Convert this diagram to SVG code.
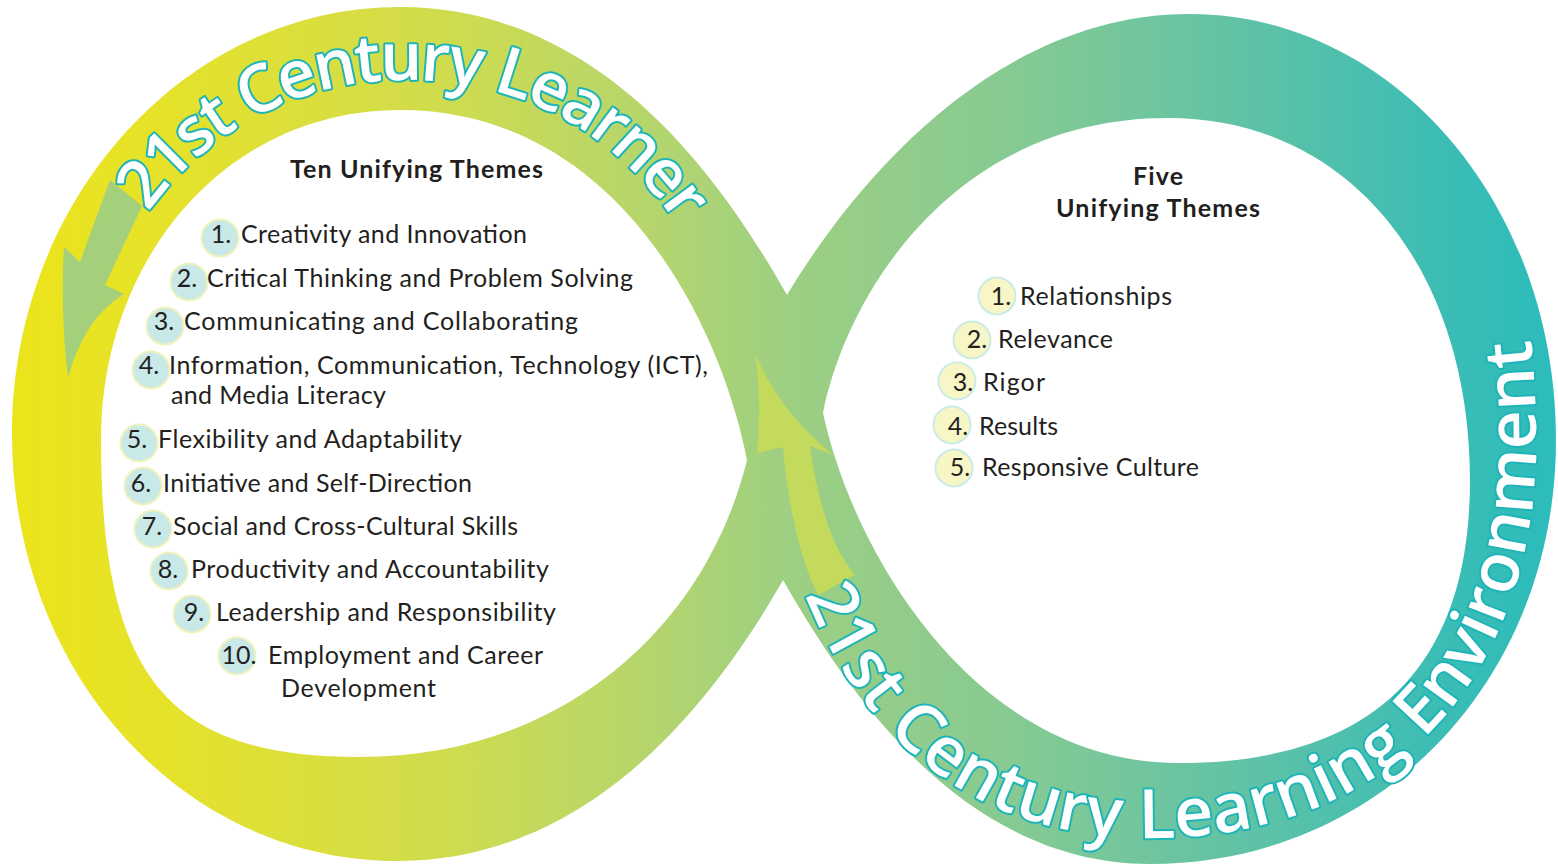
<svg xmlns="http://www.w3.org/2000/svg" width="1558" height="865" viewBox="0 0 1558 865">
<defs>
<linearGradient id="bandGrad" gradientUnits="userSpaceOnUse" x1="10" y1="0" x2="1558" y2="0">
<stop offset="0" stop-color="#ece41a"/>
<stop offset="0.1" stop-color="#e5e22a"/>
<stop offset="0.28" stop-color="#d0dc4e"/>
<stop offset="0.42" stop-color="#b3d56e"/>
<stop offset="0.5" stop-color="#9ecf82"/>
<stop offset="0.65" stop-color="#86ca93"/>
<stop offset="0.8" stop-color="#5fc2a6"/>
<stop offset="0.92" stop-color="#3dbdb4"/>
<stop offset="1" stop-color="#2bbcbc"/>
</linearGradient>
<path id="tpL" d="M 78,440 C 78,240 215,80 405,80 C 615,80 715,245 752,400"/>
<path id="tpR" d="M 770,470 C 800,640 900,838 1150,838 C 1390,838 1536,680 1536,440 C 1536,330 1520,250 1490,190"/>
</defs>
<style>
.arc{font-family:"Open Sans","Noto Sans",sans-serif;font-weight:600;fill:#ffffff;stroke:#1fb4b7;stroke-width:4;paint-order:stroke;stroke-linejoin:round}
.hd{font-family:Lato,"Liberation Sans",sans-serif;font-weight:700;font-size:25px;fill:#231f20}
.it{font-family:Lato,"Liberation Sans",sans-serif;font-size:25px;fill:#231f20}
.cl{fill:#c8e9e8;stroke:#eef2bb;stroke-width:2}
.cr{fill:#f8f5c6;stroke:#cbece5;stroke-width:2}
</style>
<g id="ribbon">
<path fill="url(#bandGrad)" fill-rule="evenodd" d="M 787,295 C 730,195 610,7 400,7 C 185,7 12,200 12,434 C 12,670 180,861 398,861 C 600,861 723,685 783,580 C 843,685 960,864 1150,864 C 1380,864 1556,680 1556,440 C 1556,200 1390,14 1190,14 C 990,14 850,190 787,295 Z M 747,460 C 722,330 620,110 400,110 C 225,110 101,260 101,440 C 101,680 170,757 360,757 C 560,757 705,630 747,460 Z M 823,413 C 845,300 950,118 1168,118 C 1350,118 1470,270 1470,480 C 1470,680 1360,763 1178,763 C 980,763 855,560 823,413 Z"/>
</g>
<g id="connectors">
<path id="arrow-left" fill="#a4cf7b" d="M 110,180 L 142,206 L 105,285 L 124,294 Q 84,318 68,378 Q 60,310 64,247 L 80,262 Z"/>
<path id="arrow-cross" fill="#c4da5d" d="M 755,353 Q 778,410 833,455 L 810,446 C 818,500 830,545 855,575 L 818,595 C 800,560 787,500 783,447 L 757,453 Q 762,400 755,353 Z"/>
</g>
<g id="arc-titles">
<text id="title-learner" class="arc" font-size="66"><textPath href="#tpL" startOffset="242" textLength="622">21st Century Learner</textPath></text>
<text id="title-environment" class="arc" font-size="68"><textPath href="#tpR" startOffset="130" textLength="1178">21st Century Learning Environment</textPath></text>
</g>
<g id="learner-themes">
<text id="hd-left" class="hd" x="416.5" y="178" text-anchor="middle" textLength="253">Ten Unifying Themes</text>
<g id="l1"><circle class="cl" cx="220" cy="238" r="18.5"/><text class="it" x="221" y="243" text-anchor="middle">1.</text><text class="it" x="241" y="243" textLength="286">Creativity and Innovation</text></g>
<g id="l2"><circle class="cl" cx="189" cy="282" r="18.5"/><text class="it" x="187" y="287" text-anchor="middle">2.</text><text class="it" x="207" y="287" textLength="426">Critical Thinking and Problem Solving</text></g>
<g id="l3"><circle class="cl" cx="165" cy="326" r="18.5"/><text class="it" x="164" y="330" text-anchor="middle">3.</text><text class="it" x="184" y="330" textLength="394">Communicating and Collaborating</text></g>
<g id="l4"><circle class="cl" cx="151" cy="370" r="18.5"/><text class="it" x="149" y="374" text-anchor="middle">4.</text><text class="it" x="169" y="374" textLength="539">Information, Communication, Technology (ICT),</text><text class="it" x="171" y="404" textLength="215">and Media Literacy</text></g>
<g id="l5"><circle class="cl" cx="139" cy="443" r="18.5"/><text class="it" x="137" y="448" text-anchor="middle">5.</text><text class="it" x="158" y="448" textLength="304">Flexibility and Adaptability</text></g>
<g id="l6"><circle class="cl" cx="143" cy="486" r="18.5"/><text class="it" x="141" y="492" text-anchor="middle">6.</text><text class="it" x="163" y="492" textLength="309">Initiative and Self-Direction</text></g>
<g id="l7"><circle class="cl" cx="153" cy="529" r="18.5"/><text class="it" x="152" y="535" text-anchor="middle">7.</text><text class="it" x="173" y="535" textLength="345">Social and Cross-Cultural Skills</text></g>
<g id="l8"><circle class="cl" cx="169" cy="571" r="18.5"/><text class="it" x="168" y="578" text-anchor="middle">8.</text><text class="it" x="191" y="578" textLength="358">Productivity and Accountability</text></g>
<g id="l9"><circle class="cl" cx="192" cy="614" r="18.5"/><text class="it" x="194" y="621" text-anchor="middle">9.</text><text class="it" x="216" y="621" textLength="340">Leadership and Responsibility</text></g>
<g id="l10"><circle class="cl" cx="237" cy="656" r="18.5"/><text class="it" x="239" y="664" text-anchor="middle">10.</text><text class="it" x="268" y="664" textLength="275">Employment and Career</text><text class="it" x="281" y="697" textLength="155">Development</text></g>
</g>
<g id="environment-themes">
<text id="hd-right-1" class="hd" x="1158" y="185" text-anchor="middle" textLength="50">Five</text>
<text id="hd-right-2" class="hd" x="1158" y="217" text-anchor="middle" textLength="204">Unifying Themes</text>
<g id="r1"><circle class="cr" cx="997" cy="296" r="18.5"/><text class="it" x="1001" y="305" text-anchor="middle">1.</text><text class="it" x="1020" y="305" textLength="152">Relationships</text></g>
<g id="r2"><circle class="cr" cx="972" cy="340" r="18.5"/><text class="it" x="977" y="348" text-anchor="middle">2.</text><text class="it" x="998" y="348" textLength="115">Relevance</text></g>
<g id="r3"><circle class="cr" cx="957" cy="381" r="18.5"/><text class="it" x="963" y="391" text-anchor="middle">3.</text><text class="it" x="983" y="391" textLength="62">Rigor</text></g>
<g id="r4"><circle class="cr" cx="952" cy="425" r="18.5"/><text class="it" x="958" y="435" text-anchor="middle">4.</text><text class="it" x="979" y="435" textLength="79">Results</text></g>
<g id="r5"><circle class="cr" cx="954" cy="468" r="18.5"/><text class="it" x="960" y="476" text-anchor="middle">5.</text><text class="it" x="982" y="476" textLength="217">Responsive Culture</text></g>
</g>
</svg>
